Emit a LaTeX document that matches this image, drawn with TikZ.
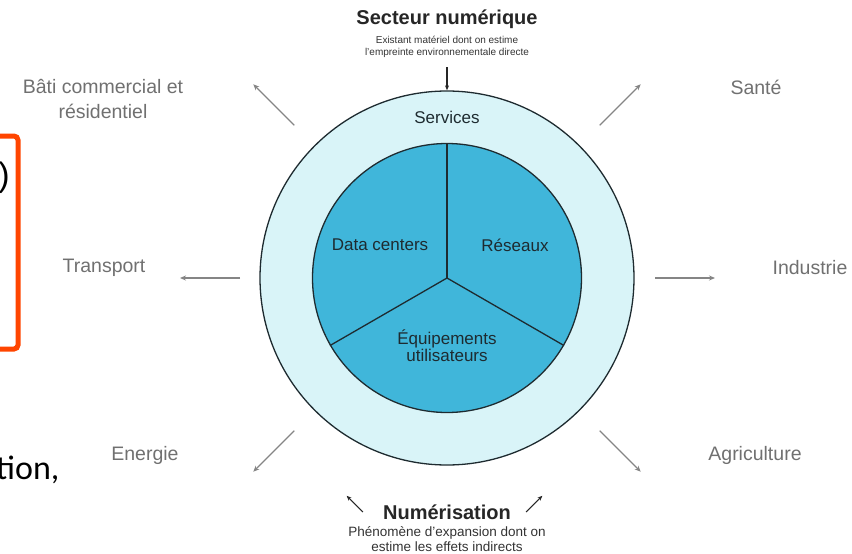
\documentclass[tikz,border=0pt]{standalone}
\usepackage{fontspec}
\setmainfont{Liberation Sans}
\newfontfamily\slidefont{Carlito}
\usetikzlibrary{arrows.meta}

\definecolor{ringfill}{HTML}{D9F4F8}
\definecolor{corefill}{HTML}{40B6DA}
\definecolor{edge}{HTML}{1E2B30}
\definecolor{sidegray}{HTML}{707070}
\definecolor{fangray}{HTML}{858585}
\definecolor{callout}{HTML}{FF4500}

\begin{document}
\begin{tikzpicture}[
    x=1pt, y=-1pt,
    every node/.style={align=center, inner sep=0pt},
    sector/.style={font=\fontsize{19.5}{25}\selectfont, text=sidegray},
    part/.style={font=\fontsize{17}{17}\selectfont, text=edge},
    heading/.style={font=\fontsize{20}{24}\selectfont\bfseries, text=black!85},
    fan/.style={-{Stealth[length=6pt,width=5pt]}, draw=fangray, line width=1.3pt},
    pointer/.style={-{Stealth[length=5pt,width=4pt]}, draw=black!85, line width=1.1pt}
]
\useasboundingbox (0,0) rectangle (852,554);
\clip (0,0) rectangle (852,554);

% slide fragment on the left
\draw[callout, line width=5pt, rounded corners=4pt] (-30,136) rectangle (18,349);
\node[anchor=east, font=\fontsize{34}{34}\selectfont\rmfamily] (paren) at (10,178) {)};
\node[anchor=base west, font=\slidefont\fontsize{34}{34}\selectfont] (tail) at (-4,479) {tion,};

% rings
\coordinate (c) at (447,278);
\node[circle, draw=edge, line width=1.3pt, fill=ringfill, minimum size=374pt] (ring) at (c) {};
\node[circle, draw=edge, line width=1.3pt, fill=corefill, minimum size=269pt] (core) at (c) {};
\draw[edge, line width=1.3pt] (c) -- (core.90);
\draw[edge, line width=1.3pt] (c) -- (core.210);
\draw[edge, line width=1.3pt] (c) -- (core.330);

\node[part] (services) at (447,117) {Services};
\node[part] (dc) at (380,245) {Data centers};
\node[part] (net) at (515,245) {Réseaux};
\node[part] (devices) at (447,346) {Équipements\\utilisateurs};

% direct footprint
\node[heading] (secteur) at (447,19) {Secteur numérique};
\node[font=\fontsize{10}{12}\selectfont, text=black!80] (secteur-sub) at (447,47)
  {Existant matériel dont on estime\\l'empreinte environnementale directe};
\draw[pointer] (447,67) -- (ring.north);

% indirect effects
\node[heading] (numer) at (447,512) {Numérisation};
\node[font=\fontsize{13.5}{15}\selectfont, text=black!80] (numer-sub) at (447,539)
  {Phénomène d'expansion dont on\\estime les effets indirects};
\draw[pointer] ([xshift=-20pt]numer.west) -- ++(135:23pt);
\draw[pointer] ([xshift=15pt]numer.east) -- ++(45:23pt);

% sectors around
\node[sector] (bati) at (103,99) {Bâti commercial et\\résidentiel};
\node[sector] (sante) at (756,87) {Santé};
\node[sector] (transport) at (104,268) {Transport};
\node[sector] (industrie) at (810,268) {Industrie};
\node[sector] (energie) at (145,455) {Energie};
\node[sector] (agri) at (755,455) {Agriculture};

\foreach \ang/\rin/\rout in {135/216/274, 45/216/274, 180/207/267,
                             0/208/268, 225/216/274, 315/216/274}
  \draw[fan] ([shift={(\ang:\rin pt)}]c) -- ([shift={(\ang:\rout pt)}]c);

\end{tikzpicture}
\end{document}
